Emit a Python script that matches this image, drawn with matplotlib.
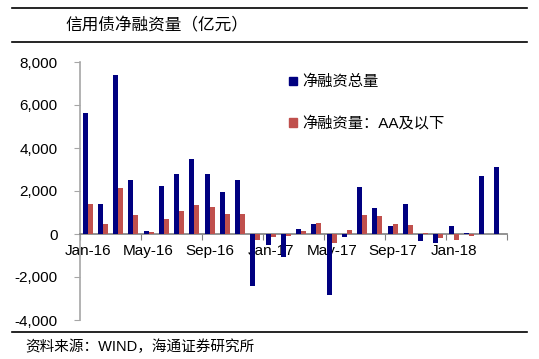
import numpy as np
import matplotlib
matplotlib.use("Agg")
import matplotlib.pyplot as plt
from matplotlib.lines import Line2D
from matplotlib.patches import Patch

plt.rcParams['font.family'] = ['Liberation Sans', 'Noto Sans CJK SC', 'DejaVu Sans']

# Data (亿元), Jan-16 .. Apr-18
months = ['Jan-16', 'Feb-16', 'Mar-16', 'Apr-16', 'May-16', 'Jun-16', 'Jul-16',
          'Aug-16', 'Sep-16', 'Oct-16', 'Nov-16', 'Dec-16', 'Jan-17', 'Feb-17',
          'Mar-17', 'Apr-17', 'May-17', 'Jun-17', 'Jul-17', 'Aug-17', 'Sep-17',
          'Oct-17', 'Nov-17', 'Dec-17', 'Jan-18', 'Feb-18', 'Mar-18', 'Apr-18']
total = [5650, 1385, 7415, 2520, 155, 2230, 2770, 3475, 2770, 1970, 2490, -2430,
         -510, -1080, 215, 445, -2845, -155, 2185, 1230, 355, 1385, -340, -430,
         370, 45, 2675, 3120]
aa_below = [1385, 460, 2150, 875, 75, 675, 1060, 1340, 1260, 910, 940, -277,
            -155, -110, 155, 490, -430, 170, 890, 860, 460, 400, 45, -200,
            -260, -110, -15, 15]
label_total = '净融资总量'
label_aa = '净融资量：AA及以下'
title = '信用债净融资量（亿元）'
source = '资料来源：WIND，海通证券研究所'

BLUE = '#000080'
RED = '#C0504D'
GREY = '#A6A6A6'

W, H = 539, 359
fig = plt.figure(figsize=(W / 100, H / 100), dpi=100)
ax = fig.add_axes([80 / W, 1 - 320 / H, (507 - 80) / W, (320 - 62) / H])

x = np.arange(len(months))
bw = 0.33
ax.bar(x - bw / 2, total, width=bw, color=BLUE, linewidth=0, zorder=3)
ax.bar(x + bw / 2, aa_below, width=bw, color=RED, linewidth=0, zorder=3)

ax.set_xlim(-0.5, len(months) - 0.5)
ax.set_ylim(-4000, 8000)
ax.set_yticks(np.arange(-4000, 8001, 2000))
ax.yaxis.set_major_formatter(matplotlib.ticker.FuncFormatter(lambda v, p: f'{int(v):,}'))
ax.tick_params(axis='y', direction='out', length=4, color=GREY, labelsize=11, pad=12)

# zero line as x-axis
for s in ['top', 'right']:
    ax.spines[s].set_visible(False)
ax.spines['left'].set_color(GREY)
ax.spines['left'].set_linewidth(1.2)
ax.spines['bottom'].set_position(('data', 0))
ax.spines['bottom'].set_color('#808080')
ax.spines['bottom'].set_linewidth(1.2)

ax.set_xticks(np.arange(-0.5, len(months), 4))
ax.set_xticklabels([])
ax.set_xticks(x[::4], minor=True)
ax.set_xticklabels(months[::4], minor=True)
ax.tick_params(axis='x', which='major', direction='out', length=4, color='#808080')
ax.tick_params(axis='x', which='minor', length=0, labelsize=11, pad=7)

handles = [Patch(color=BLUE), Patch(color=RED)]
fig.legend(handles, [label_total, label_aa], loc='upper left',
           bbox_to_anchor=(289 / W, 1 - 75 / H), frameon=False, fontsize=11,
           handlelength=0.5, handleheight=0.5, handletextpad=0.35,
           labelspacing=1.75, borderpad=0, borderaxespad=0)

# header / footer
for yy in (8, 42, 332):
    fig.add_artist(Line2D([12 / W, 527 / W], [1 - yy / H, 1 - yy / H],
                          color='black', linewidth=1.2))
fig.text(65 / W, 1 - 25 / H, title, fontsize=12, va='center', ha='left')
fig.text(25 / W, 1 - 347 / H, source, fontsize=10.5, va='center', ha='left')

fig.savefig('out.png', dpi=100)
